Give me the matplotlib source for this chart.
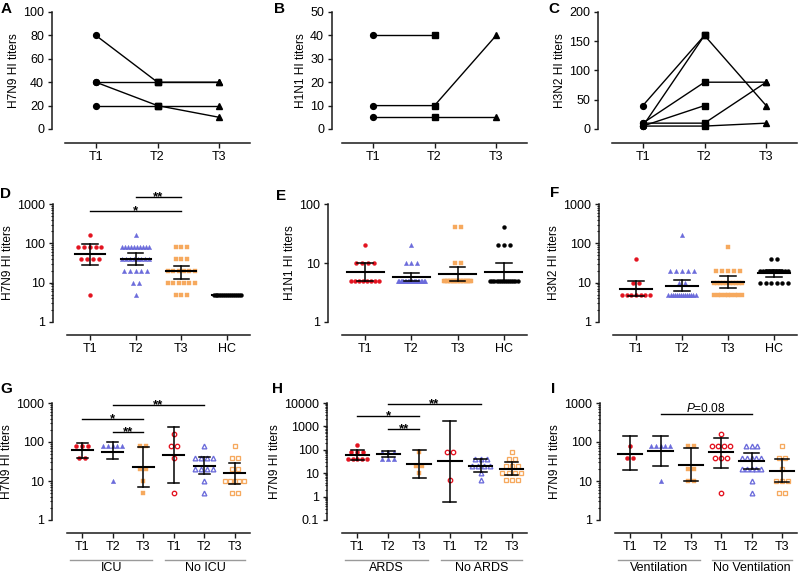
import numpy as np
import matplotlib
matplotlib.use('Agg')
import matplotlib.pyplot as plt
from matplotlib.ticker import LogLocator, NullFormatter, NullLocator

plt.rcParams['font.family'] = ['Liberation Sans', 'DejaVu Sans']
plt.rcParams['font.size'] = 8
plt.rcParams['mathtext.fontset'] = 'custom'
plt.rcParams['mathtext.rm'] = 'Liberation Sans'
plt.rcParams['mathtext.it'] = 'Liberation Sans:italic'

# ------------------------------------------------------------------ data
TIMES = ['T1', 'T2', 'T3']
DOT_CATS = ['T1', 'T2', 'T3', 'HC']
GROUP_CATS = ['T1', 'T2', 'T3', 'T1', 'T2', 'T3']

# paired patients (panels A-C)
A_T1 = [80, 40, 20, 40]
A_T2 = [40, 20, 20, 40]
A_T3 = [40, 10, 20, 40]
B_T1 = [40, 10, 5]
B_T2 = [40, 10, 5]
B_T3 = [np.nan, 40, 5]
C_T1 = [40, 5, 10, 5, 10, 5]
C_T2 = [160, 160, 80, 40, 10, 5]
C_T3 = [np.nan, 40, 80, np.nan, 80, 10]

# panel D (H7N9)
D_T1 = [160, 80, 80, 80, 80, 80, 40, 40, 40, 40, 5]
D_T2 = [160, 80, 80, 80, 80, 80, 80, 80, 80, 80, 80, 40, 40, 40, 40, 40, 40, 40, 40,
        20, 20, 20, 20, 20, 10, 10, 5]
D_T3 = [80, 80, 80, 40, 40, 40, 20, 20, 20, 20, 20, 20, 10, 10, 10, 10, 10, 10, 5, 5, 5]
D_HC = [5, 5, 5, 5, 5, 5, 5, 5, 5, 5, 5, 5, 5, 5, 5]
D_GM = [53, 40, 19.5, 5]
D_LO = [28.6, 28.6, 12.6, 5]
D_HI = [98, 56, 27, 5]

# panel E (H1N1)
E_T1 = [20, 10, 10, 10, 10, 5, 5, 5, 5, 5, 5, 5, 5]
E_T2 = [20, 10, 10, 10] + [5] * 20
E_T3 = [40, 40, 10, 10] + [5] * 20
E_HC = [40, 20, 20, 20] + [5] * 14
E_GM = [7.0, 5.9, 6.5, 7.1]
E_LO = [4.9, 4.95, 4.9, 4.95]
E_HI = [9.9, 6.7, 8.7, 10.1]

# panel F (H3N2)
F_T1 = [40, 10, 10, 5, 5, 5, 5, 5, 5, 5]
F_T2 = [160, 20, 20, 20, 20, 20, 10, 10] + [5] * 14
F_T3 = [80, 20, 20, 20, 20, 20] + [10] * 10 + [5] * 9
F_HC = [40, 40] + [20] * 10 + [10] * 6
F_GM = [7.0, 8.4, 10.4, 17.6]
F_LO = [4.5, 6.0, 7.3, 13.7]
F_HI = [10.8, 11.9, 14.5, 20.6]

# panel G (ICU / No ICU)
G_ICU_T1 = [80, 80, 80, 40, 40]
G_ICU_T2 = [80, 80, 80, 80, 80, 10]
G_ICU_T3 = [80, 80, 20, 20, 10, 5]
G_NO_T1 = [160, 80, 80, 40, 5]
G_NO_T2 = [80, 40, 40, 40, 40, 20, 20, 20, 20, 10, 5]
G_NO_T3 = [80, 40, 40, 20, 20, 10, 10, 10, 10, 10, 5, 5]
G_GM = [61, 57, 23, 46, 24.7, 16]
G_LO = [40, 36, 7.1, 8.7, 14.8, 8.4]
G_HI = [97, 102, 75, 247, 42, 29.5]

# panel H (ARDS / No ARDS)
H_ARDS_T1 = [160, 80, 80, 80, 40, 40, 40, 40, 40]
H_ARDS_T2 = [80, 80, 80, 40, 40, 40]
H_ARDS_T3 = [80, 20, 20, 10]
H_NO_T1 = [80, 80, 5]
H_NO_T2 = [40, 40, 40, 20, 20, 20, 20, 10, 5]
H_NO_T3 = [80, 40, 40, 20, 20, 20, 10, 10, 10, 10, 5, 5, 5]
H_GM = [62, 66, 24.5, 33, 21, 15.5]
H_LO = [38, 50, 6, 0.6, 11.5, 8.4]
H_HI = [98, 85, 95, 1750, 40, 31]

# panel I (Ventilation / No Ventilation)
I_VEN_T1 = [80, 40, 40]
I_VEN_T2 = [80, 80, 80, 80, 80, 10]
I_VEN_T3 = [80, 80, 20, 20, 10, 10]
I_NO_T1 = [160, 80, 80, 80, 80, 40, 40, 40, 5]
I_NO_T2 = [80, 80, 80, 40, 40, 40, 40, 40, 20, 20, 20, 20, 20, 10, 5]
I_NO_T3 = [80, 40, 40, 20, 10, 10, 10, 5, 5]
I_GM = [50, 58, 26, 55, 32, 18]
I_LO = [19, 24, 10, 22, 20, 9.6]
I_HI = [145, 145, 70, 130, 52, 36]

# significance annotations: (from category, to category, height, label)
D_SIG = [(2, 3, 1500, '**'), (1, 3, 660, '*')]
G_SIG = [(2, 5, 890, '**'), (1, 3, 390, '*'), (2, 3, 180, '**')]
H_SIG = [(2, 5, 9000, '**'), (1, 3, 2780, '*'), (2, 3, 774, '**')]
I_SIG = [(2, 5, 523, '$\\mathit{P}$=0.08')]

# ------------------------------------------------------------------ style
RED = '#E3121F'
BLUE = '#6B6BDB'
ORANGE = '#F6A95E'
AXC = '#1a1a1a'
TICK_FS = 9
LAB_FS = 8.6

W, H = 800, 575
fig = plt.figure(figsize=(8, 5.75), dpi=100)


def make_axes(yaxis_x, x0, x1, ytop, ybot, xaxis_y):
    ax = fig.add_axes([x0 / W, 1 - ybot / H, (x1 - x0) / W, (ybot - ytop) / H])
    ax.patch.set_alpha(0)
    for s in ['top', 'right']:
        ax.spines[s].set_visible(False)
    ax.spines['left'].set_position(('outward', (x0 - yaxis_x) * 0.72))
    ax.spines['bottom'].set_position(('outward', (xaxis_y - ybot) * 0.72))
    for s in ['left', 'bottom']:
        ax.spines[s].set_linewidth(1.1)
        ax.spines[s].set_color(AXC)
    ax.tick_params(which='major', direction='out', length=3.2, width=1.0,
                   color=AXC, labelsize=TICK_FS, pad=2.5)
    ax.tick_params(axis='x', which='major', length=3.5)
    ax.tick_params(which='minor', direction='out', length=1.8, width=0.8, color=AXC)
    return ax


def letter(x, y, s):
    fig.text(x / W, 1 - y / H, s, fontsize=11, fontweight='bold', ha='left', va='top')


def spread(vals, step, maxw):
    vals = np.asarray(vals, float)
    xs = np.zeros_like(vals)
    for v in np.unique(vals):
        idx = np.where(vals == v)[0]
        n = len(idx)
        st = step
        if n > 1 and (n - 1) * step > maxw:
            st = maxw / (n - 1)
        xs[idx] = (np.arange(n) - (n - 1) / 2) * st
    return xs


def log_axis(ax, lo, hi, labels, minor=True):
    ax.set_yscale('log')
    ax.set_ylim(lo, hi)
    ticks = [float(t) for t in labels]
    ax.set_yticks(ticks)
    ax.set_yticklabels(labels)
    if minor:
        ax.yaxis.set_minor_locator(LogLocator(base=10, subs=np.arange(2, 10), numticks=30))
    else:
        ax.yaxis.set_minor_locator(NullLocator())
    ax.yaxis.set_minor_formatter(NullFormatter())


def line_panel(ax, t1, t2, t3, ymax, ystep, ylabel):
    xs = [1, 2, 3]
    for a, b, c in zip(t1, t2, t3):
        ys = [a, b, c]
        ax.plot(xs, ys, color='k', lw=1.0, zorder=2, clip_on=False)
        for x, y, m, ms in zip(xs, ys, ['o', 's', '^'], [4.2, 3.7, 4.2]):
            if not np.isnan(y):
                ax.plot([x], [y], marker=m, ms=ms, color='k', ls='none',
                        zorder=3, clip_on=False)
    ax.set_xlim(0.5, 3.5)
    ax.set_ylim(0, ymax)
    ax.set_yticks(np.arange(0, ymax + 1, ystep))
    ax.set_xticks(xs)
    ax.set_xticklabels(TIMES)
    ax.set_ylabel(ylabel, fontsize=LAB_FS, labelpad=2)


def summary(ax, gm, lo, hi, mean_hw, cap_hw):
    for i, (g, l, h) in enumerate(zip(gm, lo, hi)):
        x = i + 1
        ax.plot([x, x], [l, h], color='k', lw=1.1, zorder=5, clip_on=False)
        ax.plot([x - cap_hw, x + cap_hw], [l, l], color='k', lw=1.1, zorder=5, clip_on=False)
        ax.plot([x - cap_hw, x + cap_hw], [h, h], color='k', lw=1.1, zorder=5, clip_on=False)
        ax.plot([x - mean_hw, x + mean_hw], [g, g], color='k', lw=1.5, zorder=5, clip_on=False)


def dots(ax, groups, markers, colors, fills, sizes, step, maxw):
    for i, (vals, m, c, f, ms) in enumerate(zip(groups, markers, colors, fills, sizes)):
        x = i + 1 + spread(vals, step, maxw)
        if f:
            ax.plot(x, vals, ls='none', marker=m, ms=ms, color=c, mec=c, mew=0.3,
                    zorder=3, clip_on=False)
        else:
            ax.plot(x, vals, ls='none', marker=m, ms=ms, mfc='white', mec=c,
                    mew=0.95, zorder=3, clip_on=False)


def sig(ax, items, fs=9.5):
    for a, b, y, lab in items:
        ax.plot([a, b], [y, y], color='k', lw=1.0, clip_on=False, zorder=6)
        if lab.startswith('*'):
            ax.annotate(lab, xy=((a + b) / 2, y), xytext=(0, -2.4),
                        textcoords='offset points', ha='center', va='baseline',
                        fontsize=fs, fontweight='bold', annotation_clip=False)
        else:
            ax.annotate(lab, xy=((a + b) / 2, y), xytext=(0, 1.5),
                        textcoords='offset points', ha='center', va='baseline',
                        fontsize=LAB_FS, annotation_clip=False)


def group_labels(ax, ytop, ybot, names, spans):
    fy_line = (ybot - 560) / (ybot - ytop)
    fy_text = (ybot - 562) / (ybot - ytop)
    tr = ax.get_xaxis_transform()
    for name, (a, b) in zip(names, spans):
        ax.plot([a, b], [fy_line, fy_line], color='#9a9a9a', lw=1.0,
                transform=tr, clip_on=False)
        ax.text((a + b) / 2, fy_text, name, transform=tr, ha='center', va='top',
                fontsize=TICK_FS)


# ------------------------------------------------------------------ row 1
axA = make_axes(52, 65, 250, 12, 129, 143)
line_panel(axA, A_T1, A_T2, A_T3, 100, 20, 'H7N9 HI titers')
axB = make_axes(332, 342, 527, 12, 129, 143)
line_panel(axB, B_T1, B_T2, B_T3, 50, 10, 'H1N1 HI titers')
axC = make_axes(598, 612, 797, 12, 129, 143)
line_panel(axC, C_T1, C_T2, C_T3, 200, 50, 'H3N2 HI titers')

# ------------------------------------------------------------------ row 2
row2 = [
    (make_axes(53, 67, 250, 204, 322, 335), [D_T1, D_T2, D_T3, D_HC],
     (D_GM, D_LO, D_HI), ['1', '10', '100', '1000'], True, 'H7N9 HI titers', 0.33),
    (make_axes(328, 342, 527, 204, 322, 335), [E_T1, E_T2, E_T3, E_HC],
     (E_GM, E_LO, E_HI), ['1', '10', '100'], False, 'H1N1 HI titers', 0.40),
    (make_axes(599, 613, 797, 204, 322, 335), [F_T1, F_T2, F_T3, F_HC],
     (F_GM, F_LO, F_HI), ['1', '10', '100', '1000'], True, 'H3N2 HI titers', 0.34),
]
for ax, groups, (gm, lo, hi), labs, minor, ylab, mhw in row2:
    log_axis(ax, float(labs[0]), float(labs[-1]), labs, minor)
    dots(ax, groups, ['o', '^', 's', 'o'], [RED, BLUE, ORANGE, 'k'],
         [True] * 4, [2.8, 3.1, 2.9, 2.8], 0.127, 0.59)
    summary(ax, gm, lo, hi, mhw, 0.17)
    ax.set_xlim(0.5, 4.5)
    ax.set_xticks([1, 2, 3, 4])
    ax.set_xticklabels(DOT_CATS)
    ax.set_ylabel(ylab, fontsize=LAB_FS, labelpad=2)
sig(row2[0][0], D_SIG)

# ------------------------------------------------------------------ row 3
row3 = [
    (make_axes(52, 67, 250, 403, 520, 533),
     [G_ICU_T1, G_ICU_T2, G_ICU_T3, G_NO_T1, G_NO_T2, G_NO_T3],
     (G_GM, G_LO, G_HI), ['1', '10', '100', '1000'], G_SIG, ['ICU', 'No ICU'],
     0.34, 0.18),
    (make_axes(327, 342, 527, 403, 520, 533),
     [H_ARDS_T1, H_ARDS_T2, H_ARDS_T3, H_NO_T1, H_NO_T2, H_NO_T3],
     (H_GM, H_LO, H_HI), ['0.1', '1', '10', '100', '1000', '10000'], H_SIG,
     ['ARDS', 'No ARDS'], 0.38, 0.21),
    (make_axes(600, 615, 797, 403, 520, 533),
     [I_VEN_T1, I_VEN_T2, I_VEN_T3, I_NO_T1, I_NO_T2, I_NO_T3],
     (I_GM, I_LO, I_HI), ['1', '10', '100', '1000'], I_SIG,
     ['Ventilation', 'No Ventilation'], 0.40, 0.24),
]
for ax, groups, (gm, lo, hi), labs, sg, names, mhw, chw in row3:
    log_axis(ax, float(labs[0]), float(labs[-1]), labs, True)
    dots(ax, groups, ['o', '^', 's', 'o', '^', 's'],
         [RED, BLUE, ORANGE, RED, BLUE, ORANGE],
         [True, True, True, False, False, False],
         [2.9, 3.2, 3.0, 3.2, 3.4, 3.2], 0.197, 0.62)
    summary(ax, gm, lo, hi, mhw, chw)
    ax.set_xlim(0.5, 6.5)
    ax.set_xticks([1, 2, 3, 4, 5, 6])
    ax.set_xticklabels(GROUP_CATS)
    ax.set_ylabel('H7N9 HI titers', fontsize=LAB_FS, labelpad=2)
    sig(ax, sg)
    group_labels(ax, 403, 520, names, [(0.6, 3.3), (3.7, 6.35)])

# ------------------------------------------------------------------ letters
letter(1, 2, 'A')
letter(274, 2, 'B')
letter(548, 2, 'C')
letter(0, 187, 'D')
letter(276, 189, 'E')
letter(550, 186, 'F')
letter(0, 382, 'G')
letter(272, 382, 'H')
letter(551, 382, 'I')

fig.savefig('out.png', dpi=100)
